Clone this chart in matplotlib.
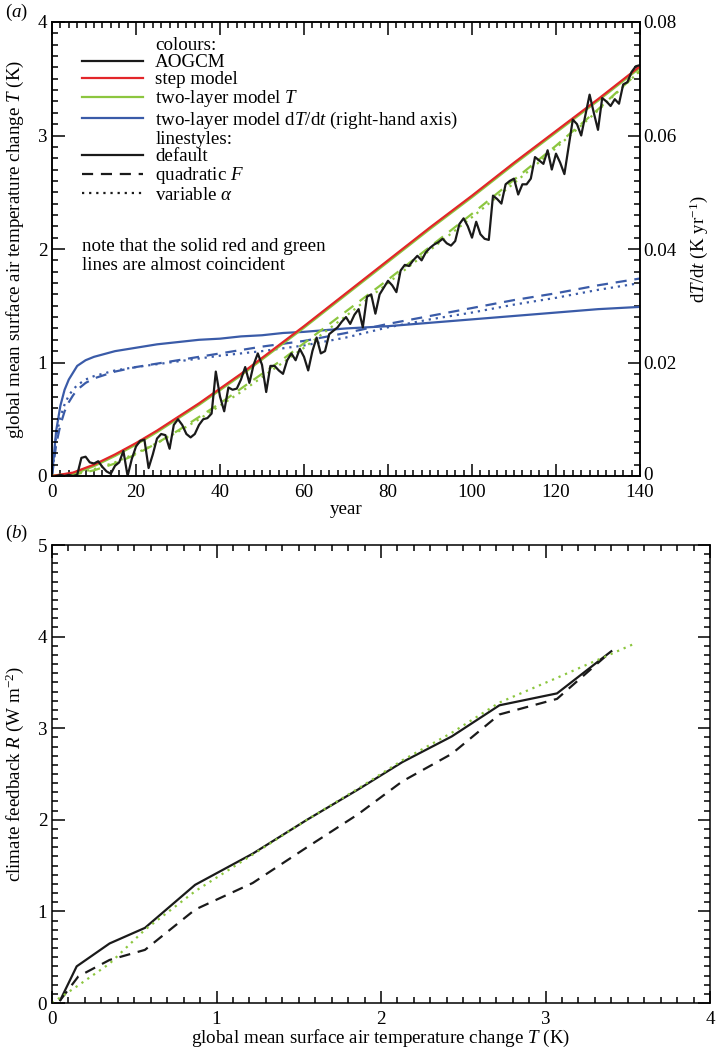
import numpy as np
import matplotlib
matplotlib.use('Agg')
import matplotlib.pyplot as plt
import matplotlib.transforms as mtransforms
from matplotlib.ticker import MultipleLocator, FixedLocator, FixedFormatter
from matplotlib.lines import Line2D

plt.rcParams['font.family'] = ['Liberation Serif', 'DejaVu Serif']
plt.rcParams['mathtext.fontset'] = 'custom'
plt.rcParams['mathtext.rm'] = 'Liberation Serif'
plt.rcParams['mathtext.it'] = 'Liberation Serif:italic'
plt.rcParams['mathtext.bf'] = 'Liberation Serif:bold'

# ---------------- data: panel (a) ----------------
aogcm_years = np.arange(1, 141)
aogcm_T = [0.00, 0.01, 0.00, 0.01, 0.00, 0.01, 0.16, 0.17, 0.12, 0.11,
           0.13, 0.08, 0.04, 0.02, 0.09, 0.12, 0.22, 0.00, 0.15, 0.26,
           0.31, 0.32, 0.07, 0.19, 0.33, 0.37, 0.36, 0.24, 0.45, 0.50,
           0.45, 0.37, 0.34, 0.37, 0.45, 0.50, 0.51, 0.55, 0.92, 0.70,
           0.57, 0.78, 0.76, 0.77, 0.85, 0.96, 0.82, 0.98, 1.08, 0.98,
           0.74, 0.97, 0.97, 0.93, 0.90, 1.02, 1.08, 1.02, 1.12, 1.05,
           0.93, 1.10, 1.22, 1.08, 1.10, 1.25, 1.28, 1.31, 1.36, 1.40,
           1.34, 1.42, 1.47, 1.31, 1.58, 1.60, 1.43, 1.60, 1.66, 1.72,
           1.68, 1.62, 1.81, 1.86, 1.85, 1.90, 1.94, 1.90, 1.97, 2.01,
           2.04, 2.06, 2.09, 2.05, 2.03, 2.07, 2.22, 2.27, 2.20, 2.10,
           2.24, 2.13, 2.09, 2.08, 2.47, 2.44, 2.40, 2.57, 2.60, 2.62,
           2.48, 2.57, 2.57, 2.62, 2.81, 2.78, 2.75, 2.87, 2.70, 2.84,
           2.76, 2.66, 2.90, 3.14, 3.10, 3.00, 3.18, 3.36, 3.20, 3.05,
           3.33, 3.30, 3.26, 3.32, 3.28, 3.45, 3.47, 3.56, 3.61, 3.62]

model_years = [0, 5, 10, 15, 20, 25, 30, 35, 40, 45, 50, 55, 60,
               70, 80, 90, 100, 110, 120, 130, 140]
step_T = [0, 0.03, 0.10, 0.19, 0.29, 0.40, 0.52, 0.64, 0.77, 0.90, 1.04,
          1.18, 1.32, 1.61, 1.90, 2.19, 2.47, 2.76, 3.04, 3.32, 3.61]
twolayer_T = [0, 0.02, 0.09, 0.18, 0.28, 0.39, 0.51, 0.63, 0.76, 0.89, 1.03,
              1.17, 1.31, 1.60, 1.89, 2.18, 2.46, 2.75, 3.03, 3.31, 3.60]
twolayer_T_quadF = [0, 0.01, 0.05, 0.11, 0.19, 0.29, 0.40, 0.52, 0.64, 0.77,
                    0.90, 1.03, 1.17, 1.45, 1.73, 2.02, 2.31, 2.61, 2.91,
                    3.23, 3.57]
twolayer_T_varalpha = [0, 0.02, 0.06, 0.12, 0.20, 0.29, 0.39, 0.50, 0.62,
                       0.74, 0.87, 1.00, 1.13, 1.41, 1.70, 1.99, 2.28, 2.58,
                       2.89, 3.22, 3.57]

rate_years = [0, 1, 2, 3, 4, 5, 6, 8, 10, 15, 20, 25, 30, 35, 40, 45, 50,
              55, 60, 70, 80, 90, 100, 110, 120, 130, 140]
dTdt_default = [0, 0.0080, 0.0124, 0.0152, 0.0170, 0.0182, 0.0194, 0.0204,
                0.0210, 0.0220, 0.0226, 0.0232, 0.0236, 0.0240, 0.0242,
                0.0246, 0.0248, 0.0252, 0.0254, 0.0260, 0.0264, 0.0270,
                0.0276, 0.0282, 0.0288, 0.0294, 0.0298]
dTdt_quadF = [0, 0.0056, 0.0090, 0.0114, 0.0130, 0.0142, 0.0152, 0.0164,
              0.0172, 0.0184, 0.0192, 0.0198, 0.0204, 0.0210, 0.0216,
              0.0222, 0.0228, 0.0233, 0.0238, 0.0252, 0.0268, 0.0282,
              0.0296, 0.0310, 0.0322, 0.0336, 0.0348]
dTdt_varalpha = [0, 0.0070, 0.0104, 0.0126, 0.0142, 0.0152, 0.0160, 0.0170,
                 0.0176, 0.0186, 0.0192, 0.0197, 0.0202, 0.0207, 0.0212,
                 0.0216, 0.0220, 0.0225, 0.0230, 0.0244, 0.0262, 0.0276,
                 0.0288, 0.0302, 0.0314, 0.0328, 0.0340]

# ---------------- data: panel (b) ----------------
T_default = [0.05, 0.15, 0.35, 0.565, 0.87, 1.22, 1.55, 1.86, 2.13, 2.43,
             2.72, 3.07, 3.40]
R_default = [0.03, 0.40, 0.65, 0.82, 1.29, 1.63, 2.00, 2.33, 2.63, 2.91,
             3.25, 3.38, 3.84]
T_quadF = [0.05, 0.16, 0.35, 0.565, 0.87, 1.22, 1.55, 1.86, 2.13, 2.43,
           2.72, 3.07, 3.40]
R_quadF = [0.03, 0.29, 0.47, 0.58, 1.02, 1.31, 1.70, 2.06, 2.42, 2.72,
           3.15, 3.32, 3.84]
T_varalpha = [0.0, 0.15, 0.35, 0.565, 0.87, 1.22, 1.55, 1.86, 2.13, 2.43,
              2.72, 3.07, 3.55]
R_varalpha = [0.0, 0.18, 0.43, 0.80, 1.22, 1.62, 2.00, 2.34, 2.65, 2.95,
              3.28, 3.55, 3.93]

# ---------------- styles ----------------
BLACK = '#1a1a1a'
RED = '#e3262a'
GREEN = '#8cc63f'
BLUE = '#3a5ba8'
LW = 1.6
DASH = (0, (5, 3.5))
DOT = (0, (1, 2.2))
FS = 13.7

fig = plt.figure(figsize=(7.16, 10.49), dpi=100)

def style_ticks(ax, **kw):
    ax.tick_params(which='both', direction='in', width=1.1, labelsize=FS, **kw)
    ax.tick_params(which='major', length=9)
    ax.tick_params(which='minor', length=4.5)
    for s in ax.spines.values():
        s.set_linewidth(1.1)

# ---------------- panel (a) ----------------
ax1 = fig.add_axes([52/716, 1 - 476/1049, 588/716, 454/1049])
ax2 = ax1.twinx()
ax1.set_zorder(ax2.get_zorder() + 1)
ax1.patch.set_visible(False)

ax2.plot(rate_years, dTdt_default, color=BLUE, lw=LW, ls='-')
ax2.plot(rate_years, dTdt_quadF, color=BLUE, lw=LW, ls=DASH)
ax2.plot(rate_years, dTdt_varalpha, color=BLUE, lw=LW, ls=DOT)

ax1.plot(model_years, twolayer_T, color=GREEN, lw=LW + 0.5, ls='-')
ax1.plot(model_years, twolayer_T_quadF, color=GREEN, lw=LW, ls=DASH)
ax1.plot(model_years, twolayer_T_varalpha, color=GREEN, lw=LW, ls=DOT)
ax1.plot(model_years, step_T, color=RED, lw=LW, ls='-')
ax1.plot(aogcm_years, aogcm_T, color=BLACK, lw=LW, ls='-')

ax1.set_xlim(0, 140)
ax1.set_ylim(0, 4)
ax2.set_ylim(0, 0.08)
ax1.xaxis.set_major_locator(MultipleLocator(20))
ax1.xaxis.set_minor_locator(MultipleLocator(2))
ax1.yaxis.set_major_locator(MultipleLocator(1))
ax1.yaxis.set_minor_locator(MultipleLocator(0.1))
ax2.yaxis.set_major_locator(FixedLocator([0, 0.02, 0.04, 0.06, 0.08]))
ax2.yaxis.set_major_formatter(FixedFormatter(['0', '0.02', '0.04', '0.06', '0.08']))
ax2.yaxis.set_minor_locator(MultipleLocator(0.002))
style_ticks(ax1, top=True, right=False)
style_ticks(ax2, right=True, left=False, top=False, bottom=False)
ax2.tick_params(axis='y', pad=2)
ax1.tick_params(axis='x', pad=6)

# nudge the right-hand "0" label up slightly so it clears the "140" label
zero_tick = ax2.yaxis.get_major_ticks()[0]
zero_tick.label2.set_transform(zero_tick.label2.get_transform() +
                               mtransforms.ScaledTranslation(0, 3/100, fig.dpi_scale_trans))

ax1.set_xlabel('year', fontsize=FS, labelpad=0)
ax1.set_ylabel('global mean surface air temperature change $T$ (K)', fontsize=FS, labelpad=8)
ax2.set_ylabel('d$T$/d$t$ (K yr$^{-1}$)', fontsize=FS, labelpad=8)

handles = [Line2D([], [], color='none'),
           Line2D([], [], color=BLACK, lw=LW),
           Line2D([], [], color=RED, lw=LW),
           Line2D([], [], color=GREEN, lw=LW),
           Line2D([], [], color=BLUE, lw=LW),
           Line2D([], [], color='none'),
           Line2D([], [], color=BLACK, lw=LW),
           Line2D([], [], color=BLACK, lw=LW, ls=DASH),
           Line2D([], [], color=BLACK, lw=LW, ls=DOT)]
labels = ['colours:', 'AOGCM', 'step model', 'two-layer model $T$',
          'two-layer model d$T$/d$t$ (right-hand axis)', 'linestyles:',
          'default', 'quadratic $F$', r'variable $\alpha$']
ax1.legend(handles, labels, loc='upper left', bbox_to_anchor=(0.051, 0.968),
           frameon=False, handlelength=3.2, handletextpad=0.65,
           labelspacing=0.0, fontsize=FS, borderaxespad=0, borderpad=0)

ax1.text(0.051, 0.525, 'note that the solid red and green\nlines are almost coincident',
         transform=ax1.transAxes, ha='left', va='top', fontsize=FS, linespacing=1.2)

fig.text(5/716, 1 - 12/1049, '($a$)', fontsize=FS, ha='left', va='center')

# ---------------- panel (b) ----------------
ax3 = fig.add_axes([52/716, 1 - 1003/1049, 658/716, 458/1049])
ax3.plot(T_default, R_default, color=BLACK, lw=LW, ls='-')
ax3.plot(T_quadF, R_quadF, color=BLACK, lw=LW, ls=DASH)
ax3.plot(T_varalpha, R_varalpha, color=GREEN, lw=LW, ls=DOT)
ax3.set_xlim(0, 4)
ax3.set_ylim(0, 5)
ax3.xaxis.set_major_locator(MultipleLocator(1))
ax3.xaxis.set_minor_locator(MultipleLocator(0.1))
ax3.yaxis.set_major_locator(MultipleLocator(1))
ax3.yaxis.set_minor_locator(MultipleLocator(0.1))
style_ticks(ax3, top=True, right=True)
ax3.tick_params(axis='x', pad=6)
ax3.set_xlabel('global mean surface air temperature change $T$ (K)', fontsize=FS, labelpad=0)
ax3.set_ylabel('climate feedback $R$ (W m$^{-2}$)', fontsize=FS, labelpad=8)

fig.text(5/716, 1 - 533/1049, '($b$)', fontsize=FS, ha='left', va='center')

fig.savefig('out.png', dpi=100)
